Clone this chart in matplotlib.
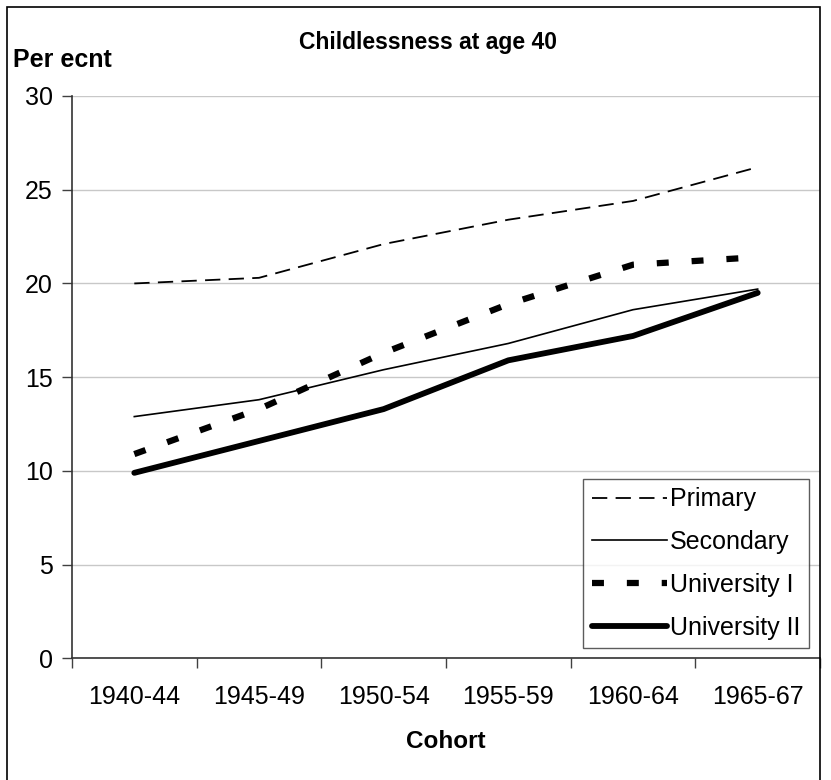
import matplotlib
matplotlib.use("Agg")
import matplotlib.pyplot as plt
import numpy as np
from matplotlib.patches import Rectangle

plt.rcParams['font.family'] = ['Liberation Sans', 'DejaVu Sans']
plt.rcParams['lines.scale_dashes'] = False

cohorts = ["1940-44", "1945-49", "1950-54", "1955-59", "1960-64", "1965-67"]
primary = [20.0, 20.3, 22.1, 23.4, 24.4, 26.2]
secondary = [12.9, 13.8, 15.4, 16.8, 18.6, 19.7]
university_1 = [10.9, 13.3, 16.3, 18.9, 21.0, 21.4]
university_2 = [9.9, 11.6, 13.3, 15.9, 17.2, 19.5]

fig = plt.figure(figsize=(8.31, 7.8), dpi=100)
ax = fig.add_axes([0.0866, 0.1558, 0.9002, 0.7212])

x = np.arange(len(cohorts))
ax.plot(x, primary, color='black', lw=1.3, dashes=(11, 6), label='Primary')
ax.plot(x, secondary, color='black', lw=1.2, label='Secondary')
ax.plot(x, university_1, color='black', lw=4.5, dashes=(8.6, 16.5),
        solid_capstyle='butt', label='University I')
ax.plot(x, university_2, color='black', lw=4.2, solid_capstyle='round',
        label='University II')

ax.set_xlim(-0.5, len(cohorts) - 0.5)
ax.set_ylim(0, 30)
ax.set_yticks(range(0, 31, 5))
ax.yaxis.grid(True, color='#c8c8c8', lw=1.0)
ax.set_axisbelow(True)

# category labels centred, tick marks between categories
ax.set_xticks(x)
ax.set_xticklabels(cohorts)
ax.set_xticks(np.arange(-0.5, len(cohorts)), minor=True)
ax.tick_params(axis='x', which='major', length=0, pad=19, labelsize=18)
ax.tick_params(axis='x', which='minor', length=7, width=1, color='#404040',
               direction='out')
ax.tick_params(axis='y', length=7, width=1, color='#404040', pad=7,
               labelsize=18)

for side in ['top', 'right']:
    ax.spines[side].set_visible(False)
for side in ['left', 'bottom']:
    ax.spines[side].set_color('#333333')
    ax.spines[side].set_linewidth(1.2)

leg = ax.legend(loc='lower right', bbox_to_anchor=(0.985, 0.018),
                fontsize=18, frameon=True, fancybox=False, handlelength=3.0,
                handletextpad=0.12, borderpad=0.35, labelspacing=0.75,
                borderaxespad=0)
leg.get_frame().set_edgecolor('#333333')
leg.get_frame().set_linewidth(1.0)

fig.text(0.515, 0.945, "Childlessness at age 40", ha='center', va='center',
         fontsize=16.5, fontweight='bold')
fig.text(0.0156, 0.914, "Per ecnt", ha='left', va='baseline',
         fontsize=18, fontweight='bold')
fig.text(0.537, 0.05, "Cohort", ha='center', va='center',
         fontsize=17.5, fontweight='bold')

# outer frame round the whole chart
fig.patches.append(Rectangle((7 / 831, -0.05), 813 / 831, 1 - 7 / 780 + 0.05,
                             transform=fig.transFigure, fill=False,
                             edgecolor='black', lw=1.2))

fig.savefig("out.png", dpi=100)
